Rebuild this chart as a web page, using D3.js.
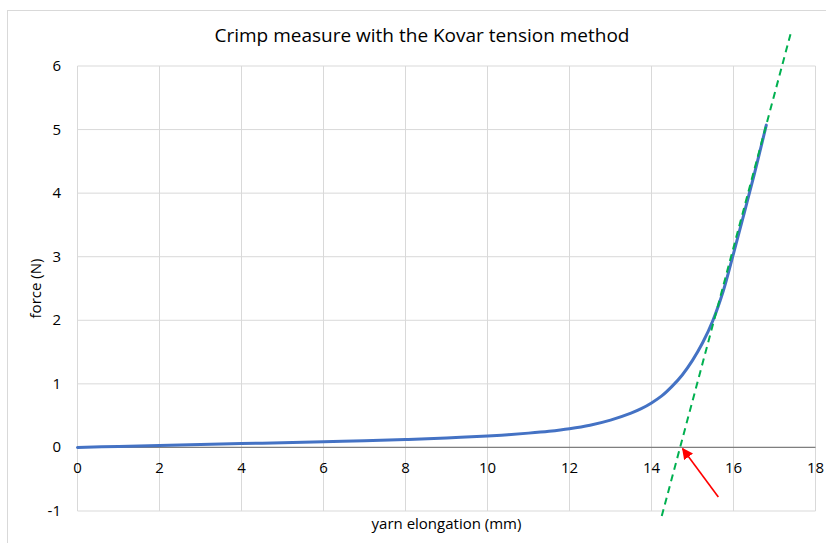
<!DOCTYPE html>
<html><head><meta charset="utf-8">
<script src="https://cdn.jsdelivr.net/npm/d3@7/dist/d3.min.js"></script>
<style>body{margin:0;background:#fff;} text{font-family:"Open Sans",sans-serif;fill:#000;}</style>
</head><body><svg id="c" width="826" height="543"></svg>
<script>
const elongation = [0, 1, 2, 3, 4, 5, 6, 7, 8, 9, 10, 10.5, 11, 11.5, 12, 12.5, 13, 13.5, 13.75, 14, 14.25, 14.5, 14.75, 15, 15.25, 15.5, 15.75, 16, 16.25, 16.5, 16.8];
const force =      [0, 0.015, 0.03, 0.045, 0.06, 0.075, 0.09, 0.105, 0.125, 0.15, 0.18, 0.2, 0.225, 0.255, 0.295, 0.35, 0.43, 0.54, 0.61, 0.7, 0.81, 0.96, 1.14, 1.37, 1.65, 2.0, 2.46, 3.05, 3.66, 4.28, 5.07];
const tangentX = [14.25, 17.39];
const tangentY = [-1.08, 6.5];
const arrowFrom = [15.63, -0.78];
const arrowTo = [14.76, -0.02];
const xTicks = [0, 2, 4, 6, 8, 10, 12, 14, 16, 18];
const yTicks = [-1, 0, 1, 2, 3, 4, 5, 6];

const svg = d3.select("#c");
const x = d3.scaleLinear().domain([0, 18]).range([77.5, 815.5]);
const y = d3.scaleLinear().domain([-1, 6]).range([511, 66]);

svg.append("rect").attr("x", 7.5).attr("y", 10.5).attr("width", 830).attr("height", 550)
  .attr("fill", "none").attr("stroke", "#d9d9d9");

svg.append("text").attr("x", 422).attr("y", 42).attr("text-anchor", "middle")
  .style("font-size", "19px").text("Crimp measure with the Kovar tension method");

const grid = svg.append("g");
grid.selectAll(".h").data(yTicks).join("line")
  .attr("x1", x(0)).attr("x2", x(18)).attr("y1", d => y(d)).attr("y2", d => y(d))
  .attr("stroke", "#d9d9d9").attr("stroke-width", 1);
grid.selectAll(".v").data(xTicks).join("line")
  .attr("y1", y(-1)).attr("y2", y(6)).attr("x1", d => x(d)).attr("x2", d => x(d))
  .attr("stroke", "#d9d9d9").attr("stroke-width", 1);

// zero axis line
svg.append("line").attr("x1", x(0)).attr("x2", x(18)).attr("y1", y(0)).attr("y2", y(0))
  .attr("stroke", "#7f7f7f").attr("stroke-width", 1.3);

// y tick labels
svg.append("g").selectAll("text").data(yTicks).join("text")
  .attr("x", 61).attr("y", d => y(d) + 5).attr("text-anchor", "end")
  .style("font-size", "15px").text(d => d);
// x tick labels
svg.append("g").selectAll("text").data(xTicks).join("text")
  .attr("x", d => x(d)).attr("y", y(0) + 26).attr("text-anchor", "middle")
  .style("font-size", "15px").text(d => d);

svg.append("text").attr("transform", `translate(41,${(y(6)+y(-1))/2}) rotate(-90)`)
  .attr("text-anchor", "middle").style("font-size", "15px").text("force (N)");
svg.append("text").attr("x", (x(0)+x(18))/2).attr("y", 529).attr("text-anchor", "middle")
  .style("font-size", "15px").text("yarn elongation (mm)");

const pts = elongation.map((e, i) => [e, force[i]]);
svg.append("path").datum(pts)
  .attr("d", d3.line().x(d => x(d[0])).y(d => y(d[1])).curve(d3.curveCatmullRom.alpha(0.5)))
  .attr("fill", "none").attr("stroke", "#4472c4").attr("stroke-width", 3).attr("stroke-linecap", "round");

svg.append("line").attr("x1", x(tangentX[0])).attr("y1", y(tangentY[0]))
  .attr("x2", x(tangentX[1])).attr("y2", y(tangentY[1]))
  .attr("stroke", "#00b050").attr("stroke-width", 2).attr("stroke-dasharray", "7,5");

// arrow
const defs = svg.append("defs");
defs.append("marker").attr("id", "ah").attr("viewBox", "0 0 10 10").attr("refX", 9).attr("refY", 5)
  .attr("markerWidth", 7).attr("markerHeight", 7).attr("markerUnits", "strokeWidth").attr("orient", "auto")
  .append("path").attr("d", "M0,0 L10,5 L0,10 Z").attr("fill", "#ff0000");
svg.append("line").attr("x1", x(arrowFrom[0])).attr("y1", y(arrowFrom[1]))
  .attr("x2", x(arrowTo[0])).attr("y2", y(arrowTo[1]))
  .attr("stroke", "#ff0000").attr("stroke-width", 1.6).attr("marker-end", "url(#ah)");
</script></body></html>
